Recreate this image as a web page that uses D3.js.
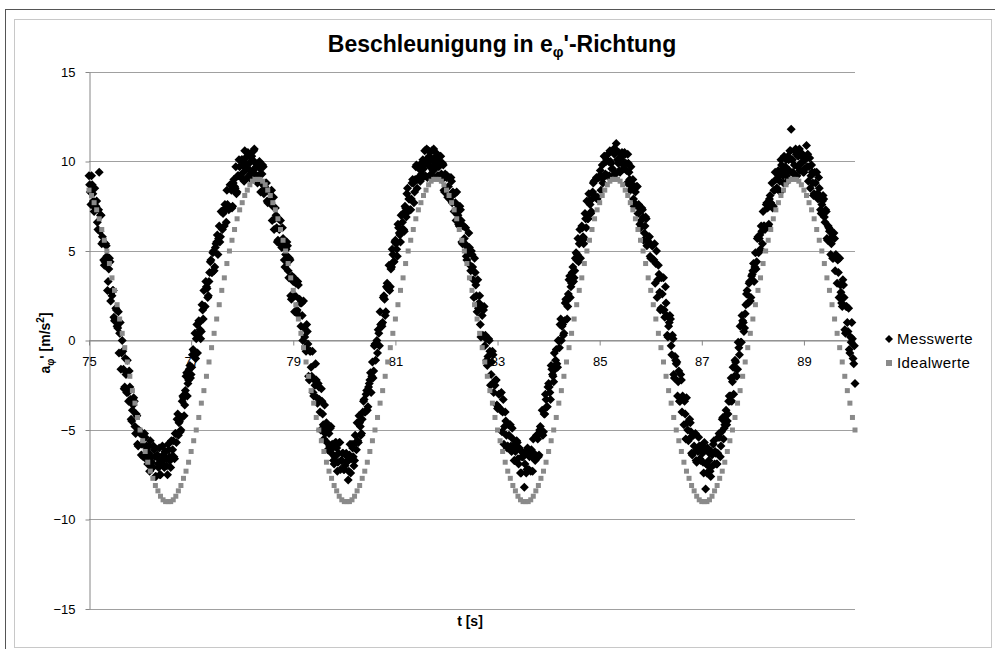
<!DOCTYPE html>
<html>
<head>
<meta charset="utf-8">
<script src="https://cdn.jsdelivr.net/npm/d3@7"></script>
<style>
  body { margin: 0; background: #fff; }
  svg { display: block; font-family: "Liberation Sans", Arial, sans-serif; }
</style>
</head>
<body>
<svg id="root"></svg>
<script>
// sample grids (s)
const tStart = 75;
const messStep = 0.025;
const idealStep = 0.05;

// measured tangential acceleration at 75.000, 75.025, ... (one row = 0.5 s)
const messwerte = [
  9.2, 8.3, 9.2, 8.2, 7.2, 7.4, 7.8, 6.2, 9.4, 7.0, 5.4, 5.5, 4.2, 5.4, 4.7, 3.3, 4.6, 2.2, 2.5, 2.8,
  1.1, 1.8, 0.8, 1.6, 0.4, -1.6, 0.0, -1.6, -2.6, -1.9, -1.1, -3.4, -2.6, -4.4, -3.9, -3.2, -4.8, -4.1, -5.8, -5.0,
  -5.2, -6.4, -5.3, -6.4, -5.4, -5.9, -6.9, -6.3, -5.6, -6.8, -7.1, -6.1, -7.6, -6.5, -6.9, -6.0, -7.5, -6.8, -6.4, -7.1,
  -6.2, -7.0, -5.8, -6.5, -7.1, -6.5, -5.6, -6.6, -5.2, -4.4, -5.3, -4.5, -5.0, -3.4, -3.2, -3.6, -2.0, -3.1, -2.2, -1.4,
  -1.9, -0.8, -0.8, 0.4, 0.1, -0.7, 1.1, 0.6, 0.5, 1.7, 2.8, 1.9, 3.0, 2.4, 3.3, 4.4, 3.8, 4.9, 3.9, 5.2,
  5.5, 4.8, 6.4, 5.8, 7.2, 7.1, 6.4, 7.4, 8.4, 7.5, 7.4, 8.7, 7.4, 8.8, 8.6, 9.7, 8.3, 9.2, 9.7, 9.1,
  10.1, 9.4, 10.6, 9.9, 9.1, 9.6, 10.3, 9.0, 10.1, 10.6, 9.3, 9.7, 8.8, 9.9, 9.6, 8.8, 9.8, 8.2, 8.5, 8.8,
  7.7, 8.3, 7.7, 8.4, 7.5, 6.2, 7.4, 6.3, 5.6, 6.2, 6.7, 5.2, 5.7, 4.5, 4.8, 5.5, 3.9, 4.6, 2.5, 3.6,
  3.3, 1.6, 3.2, 1.7, 3.1, 2.3, 0.8, 1.4, 2.2, 0.2, -0.6, 0.5, -2.0, -0.6, -1.5, -0.6, -3.1, -2.5, -2.2, -3.5,
  -2.6, -4.0, -2.7, -4.1, -5.5, -5.2, -4.6, -6.1, -5.2, -4.9, -6.3, -6.0, -6.9, -5.7, -6.0, -6.8, -5.7, -7.2, -6.7, -6.3,
  -7.2, -6.4, -6.8, -7.8, -6.4, -7.4, -5.8, -6.5, -6.7, -5.7, -4.6, -5.7, -4.6, -5.3, -4.4, -3.4, -4.0, -3.0, -3.9, -2.6,
  -2.2, -2.9, -1.2, -1.7, -0.2, -0.2, -0.7, 0.4, 1.6, 0.9, 1.0, 2.5, 1.4, 3.0, 2.9, 4.2, 3.0, 4.1, 4.8, 4.4,
  5.6, 5.1, 6.5, 6.0, 5.5, 6.2, 7.1, 6.1, 7.4, 8.2, 7.2, 7.9, 7.3, 8.8, 8.8, 8.3, 9.7, 8.5, 9.1, 9.8,
  9.0, 9.9, 9.6, 10.6, 10.1, 9.1, 10.6, 9.7, 9.3, 10.1, 10.7, 9.6, 10.3, 9.2, 9.7, 10.3, 9.3, 9.9, 8.4, 9.3,
  9.1, 8.0, 9.1, 8.0, 8.9, 8.3, 7.2, 7.7, 8.3, 7.0, 6.4, 7.3, 5.5, 6.4, 5.7, 6.3, 4.5, 4.9, 5.2, 3.9,
  4.8, 3.4, 4.6, 3.1, 1.6, 1.8, 2.5, 0.2, 1.4, 1.7, -0.3, 0.1, -1.4, 0.1, -0.6, -1.9, -0.6, -2.9, -2.5, -2.2,
  -3.8, -3.0, -3.8, -2.9, -4.0, -5.8, -4.0, -5.3, -5.9, -5.3, -4.7, -6.2, -5.5, -6.7, -6.2, -5.6, -6.6, -6.0, -7.4, -6.5,
  -6.5, -8.2, -6.3, -7.2, -6.1, -6.5, -7.3, -6.5, -5.5, -6.5, -6.6, -5.3, -6.5, -5.0, -5.1, -3.9, -5.1, -4.1, -3.3, -3.7,
  -2.4, -2.9, -1.4, -1.9, -2.3, -1.6, -0.5, -1.5, 0.0, 0.9, 0.0, 0.9, 0.4, 2.1, 2.2, 1.9, 3.4, 2.4, 3.2, 4.1,
  3.5, 4.6, 4.5, 5.7, 5.4, 4.6, 6.4, 5.8, 5.7, 6.8, 7.8, 6.8, 7.8, 7.1, 7.9, 8.8, 8.1, 9.0, 7.9, 9.1,
  9.2, 8.4, 9.8, 9.1, 10.3, 10.0, 9.2, 10.0, 10.6, 9.9, 9.6, 10.7, 9.3, 11.0, 10.1, 10.5, 9.4, 10.1, 10.4, 9.6,
  10.4, 9.5, 10.4, 9.4, 8.4, 8.6, 9.0, 7.5, 8.3, 8.6, 7.1, 7.4, 6.3, 7.4, 6.9, 6.0, 6.9, 5.3, 5.5, 5.8,
  4.6, 5.3, 4.5, 5.4, 4.3, 2.4, 4.2, 2.7, 1.8, 2.6, 3.5, 1.3, 2.1, 0.3, 0.8, 1.4, -0.3, 0.3, -1.9, -0.9,
  -1.3, -3.1, -1.7, -3.4, -2.2, -3.1, -4.7, -4.1, -3.2, -5.0, -5.5, -4.6, -6.3, -5.3, -5.9, -5.2, -6.8, -6.2, -5.9, -6.7,
  -5.9, -6.8, -5.7, -8.3, -7.4, -7.0, -6.3, -7.6, -6.4, -5.8, -6.9, -6.3, -6.9, -5.4, -5.4, -5.9, -4.4, -5.5, -4.7, -3.9,
  -4.5, -3.4, -3.4, -2.1, -2.3, -3.0, -1.1, -1.6, -1.6, -0.4, 0.8, -0.1, 1.1, 0.5, 1.5, 2.6, 2.1, 3.2, 2.2, 3.6,
  3.9, 3.3, 4.9, 4.4, 5.8, 5.7, 5.1, 6.1, 7.2, 6.4, 6.3, 7.7, 6.4, 7.9, 7.7, 8.8, 7.5, 8.4, 9.0, 8.5,
  9.5, 8.9, 10.1, 9.5, 8.8, 9.3, 10.1, 8.9, 10.1, 10.6, 11.8, 10.1, 9.3, 10.6, 10.4, 9.7, 10.6, 9.5, 9.9, 10.4,
  9.4, 10.1, 10.9, 10.4, 9.7, 8.5, 9.8, 8.8, 8.2, 8.8, 9.4, 7.9, 8.5, 7.3, 7.6, 8.1, 6.9, 7.3, 5.7, 6.4,
  6.1, 4.8, 5.8, 4.6, 5.7, 4.8, 3.2, 3.8, 4.6, 2.7, 1.9, 3.1, 0.6, 1.9, 1.0, 1.8, -0.7, -0.1, 0.1, -1.3,
  -2.4
];

// measured values in between, at 75.0125, 75.0375, ... (one row = 0.5 s)
const messwerteZwischen = [
  8.7, 7.6, 8.7, 7.8, 8.5, 7.5, 6.6, 7.3, 6.1, 7.0, 5.8, 4.5, 4.4, 5.3, 2.8, 4.0, 4.4, 2.7, 2.8, 1.3,
  1.2, 1.7, 0.7, -0.7, 1.0, -0.7, -0.6, -2.7, -1.0, -2.9, -2.9, -1.7, -3.3, -4.5, -3.6, -3.4, -5.2, -4.2, -5.9, -5.1,
  -5.1, -5.8, -6.5, -5.2, -6.6, -6.0, -5.9, -7.3, -6.5, -7.1, -5.9, -6.5, -7.6, -6.4, -7.1, -7.5, -6.7, -5.9, -7.0, -6.2,
  -6.6, -7.5, -6.1, -6.7, -5.6, -6.1, -6.5, -5.2, -5.7, -4.1, -4.6, -5.1, -4.3, -3.1, -4.2, -2.8, -1.8, -2.4, -1.6, -2.1,
  -1.5, -0.5, -0.6, -1.0, 0.9, 0.3, 1.0, 0.1, 2.0, 1.2, 1.9, 3.3, 2.9, 2.5, 3.8, 4.5, 3.8, 5.0, 4.1, 5.4,
  5.9, 5.7, 5.5, 7.2, 6.2, 7.2, 7.6, 6.6, 7.6, 7.3, 8.7, 8.4, 7.5, 9.0, 8.5, 8.2, 9.2, 10.1, 9.2, 10.1,
  9.8, 8.9, 10.2, 9.6, 10.5, 9.9, 9.3, 10.3, 9.5, 10.7, 9.9, 9.0, 9.2, 10.0, 8.3, 9.3, 9.7, 8.6, 8.8, 7.8,
  7.8, 8.3, 7.7, 6.7, 8.0, 6.8, 7.0, 5.5, 6.8, 5.4, 5.5, 6.3, 5.3, 4.1, 5.1, 5.3, 3.5, 4.5, 2.3, 3.4,
  3.5, 2.5, 1.6, 3.3, 1.4, 2.1, 2.1, 0.0, 0.7, -0.4, 0.9, -0.2, -2.2, -0.6, -2.0, -2.9, -2.2, -1.3, -3.2, -2.4,
  -3.3, -5.0, -3.4, -4.7, -3.6, -4.9, -5.7, -4.9, -5.9, -4.8, -5.8, -6.7, -6.5, -5.7, -7.3, -6.3, -5.7, -6.7, -6.3, -7.2,
  -7.0, -6.3, -6.7, -7.3, -5.8, -6.6, -6.0, -7.0, -5.3, -6.1, -5.6, -4.2, -4.8, -5.2, -4.0, -3.3, -4.0, -2.8, -3.7, -2.4,
  -1.8, -2.0, -2.1, -0.3, -1.1, 0.0, 0.6, -0.3, 0.9, 0.8, 2.4, 2.3, 1.6, 3.2, 2.9, 2.8, 4.0, 5.1, 4.4, 5.5,
  5.4, 4.7, 6.3, 5.9, 7.0, 6.6, 6.2, 7.5, 6.9, 8.5, 7.9, 7.3, 7.9, 9.0, 7.7, 9.0, 9.8, 9.0, 9.6, 8.9,
  9.3, 10.1, 9.8, 9.2, 10.7, 9.9, 10.3, 9.1, 10.6, 9.5, 9.8, 10.5, 10.0, 9.2, 10.0, 10.3, 9.0, 9.8, 8.3, 9.2,
  9.2, 8.6, 7.9, 9.1, 7.7, 8.2, 8.2, 6.7, 7.3, 6.5, 7.5, 6.7, 5.4, 6.4, 5.4, 4.7, 5.2, 6.0, 4.2, 5.0,
  4.1, 2.4, 3.8, 2.5, 3.4, 2.1, 0.9, 1.9, 0.3, 1.9, 0.3, -1.1, -0.9, 0.0, -2.5, -1.2, -0.8, -2.3, -2.2, -3.6,
  -3.7, -3.0, -3.9, -5.1, -3.3, -4.8, -4.5, -6.0, -4.7, -6.0, -5.9, -4.9, -5.9, -6.7, -6.0, -5.7, -6.9, -6.1, -7.4, -6.5,
  -6.3, -6.9, -7.4, -6.0, -7.2, -6.4, -6.1, -7.3, -6.3, -6.7, -5.3, -5.5, -6.4, -4.8, -5.2, -5.3, -4.1, -3.0, -3.7, -2.6,
  -2.6, -3.3, -1.6, -2.0, -0.7, -1.1, -1.3, 0.0, -0.4, 1.2, 0.8, 0.3, 1.1, 2.3, 1.2, 2.6, 3.6, 3.0, 3.8, 3.3,
  3.9, 4.9, 4.8, 4.4, 6.2, 5.6, 6.3, 5.4, 7.1, 6.3, 6.8, 8.2, 7.6, 7.2, 8.3, 8.9, 8.0, 9.1, 8.0, 9.1,
  9.5, 9.1, 8.8, 10.3, 9.3, 10.1, 10.4, 9.2, 10.0, 9.6, 10.6, 10.4, 9.3, 10.6, 9.9, 9.5, 10.2, 10.5, 9.8, 10.5,
  9.9, 8.8, 9.9, 9.0, 9.7, 8.7, 7.9, 8.6, 7.6, 8.6, 7.6, 6.5, 6.7, 7.3, 5.6, 6.4, 6.8, 5.6, 5.8, 4.7,
  4.6, 5.3, 4.5, 3.2, 5.0, 3.4, 3.7, 1.7, 3.5, 1.7, 1.7, 3.0, 1.4, 0.2, 1.0, 1.2, -0.8, 0.1, -2.1, -1.1,
  -1.2, -2.3, -3.4, -1.9, -4.0, -3.3, -3.4, -5.5, -4.6, -5.6, -4.4, -5.1, -6.4, -5.3, -6.2, -6.7, -6.1, -5.4, -6.6, -5.9,
  -6.3, -7.4, -6.1, -6.9, -6.0, -6.7, -7.3, -6.2, -7.0, -5.6, -6.2, -6.9, -6.3, -5.2, -6.5, -5.1, -4.3, -4.9, -4.2, -4.7,
  -4.1, -3.1, -3.1, -3.4, -1.5, -2.0, -1.2, -2.0, -0.1, -0.8, -0.1, 1.4, 1.0, 0.7, 2.0, 2.8, 2.1, 3.3, 2.4, 3.7,
  4.3, 4.1, 4.0, 5.7, 4.9, 5.9, 6.4, 5.4, 6.4, 6.2, 7.6, 7.4, 6.5, 8.1, 7.6, 7.4, 8.4, 9.4, 8.5, 9.4,
  9.2, 8.3, 9.8, 9.2, 10.3, 9.7, 9.2, 10.3, 9.5, 10.6, 10.1, 9.4, 9.8, 10.7, 9.2, 10.3, 10.7, 9.9, 10.3, 9.4,
  9.6, 10.2, 9.7, 8.9, 10.2, 9.2, 9.4, 8.1, 9.4, 8.1, 8.2, 9.1, 8.1, 7.1, 7.8, 7.9, 6.6, 7.2, 5.6, 6.3,
  6.2, 5.4, 4.6, 6.0, 3.9, 4.6, 4.5, 2.4, 3.1, 2.1, 3.4, 2.4, 0.4, 1.9, 0.5, -0.5, 0.2, 1.0, -1.0, -0.3
];

// ideal values, one row = 0.5 s
const idealwerte = [
  8.4, 8.1, 7.7, 7.3, 6.8, 6.2, 5.6, 5, 4.3, 3.5,
  2.8, 2, 1.2, 0.4, -0.4, -1.2, -2, -2.8, -3.5, -4.3,
  -5, -5.6, -6.2, -6.8, -7.3, -7.7, -8.1, -8.4, -8.7, -8.9,
  -9, -9, -9, -8.9, -8.7, -8.4, -8.1, -7.7, -7.3, -6.8,
  -6.2, -5.6, -5, -4.3, -3.5, -2.8, -2, -1.2, -0.4, 0.4,
  1.2, 2, 2.8, 3.5, 4.3, 5, 5.6, 6.2, 6.8, 7.3,
  7.7, 8.1, 8.4, 8.7, 8.9, 9, 9, 9, 8.9, 8.7,
  8.4, 8.1, 7.7, 7.3, 6.8, 6.2, 5.6, 5, 4.3, 3.5,
  2.8, 2, 1.2, 0.4, -0.4, -1.2, -2, -2.8, -3.5, -4.3,
  -5, -5.6, -6.2, -6.8, -7.3, -7.7, -8.1, -8.4, -8.7, -8.9,
  -9, -9, -9, -8.9, -8.7, -8.4, -8.1, -7.7, -7.3, -6.8,
  -6.2, -5.6, -5, -4.3, -3.5, -2.8, -2, -1.2, -0.4, 0.4,
  1.2, 2, 2.8, 3.5, 4.3, 5, 5.6, 6.2, 6.8, 7.3,
  7.7, 8.1, 8.4, 8.7, 8.9, 9, 9, 9, 8.9, 8.7,
  8.4, 8.1, 7.7, 7.3, 6.8, 6.2, 5.6, 5, 4.3, 3.5,
  2.8, 2, 1.2, 0.4, -0.4, -1.2, -2, -2.8, -3.5, -4.3,
  -5, -5.6, -6.2, -6.8, -7.3, -7.7, -8.1, -8.4, -8.7, -8.9,
  -9, -9, -9, -8.9, -8.7, -8.4, -8.1, -7.7, -7.3, -6.8,
  -6.2, -5.6, -5, -4.3, -3.5, -2.8, -2, -1.2, -0.4, 0.4,
  1.2, 2, 2.8, 3.5, 4.3, 5, 5.6, 6.2, 6.8, 7.3,
  7.7, 8.1, 8.4, 8.7, 8.9, 9, 9, 9, 8.9, 8.7,
  8.4, 8.1, 7.7, 7.3, 6.8, 6.2, 5.6, 5, 4.3, 3.5,
  2.8, 2, 1.2, 0.4, -0.4, -1.2, -2, -2.8, -3.5, -4.3,
  -5, -5.6, -6.2, -6.8, -7.3, -7.7, -8.1, -8.4, -8.7, -8.9,
  -9, -9, -9, -8.9, -8.7, -8.4, -8.1, -7.7, -7.3, -6.8,
  -6.2, -5.6, -5, -4.3, -3.5, -2.8, -2, -1.2, -0.4, 0.4,
  1.2, 2, 2.8, 3.5, 4.3, 5, 5.6, 6.2, 6.8, 7.3,
  7.7, 8.1, 8.4, 8.7, 8.9, 9, 9, 9, 8.9, 8.7,
  8.4, 8.1, 7.7, 7.3, 6.8, 6.2, 5.6, 5, 4.3, 3.5,
  2.8, 2, 1.2, 0.4, -0.4, -1.2, -2, -2.8, -3.5, -4.3,
  -5
];

const xTicks = [75, 77, 79, 81, 83, 85, 87, 89];
const yTicks = [-15, -10, -5, 0, 5, 10, 15];
const seriesNames = ["Messwerte", "Idealwerte"];

const width = 995;
const height = 649;
const crisp = v => Math.floor(v) + 0.5;

const svg = d3.select('#root')
  .attr('width', width)
  .attr('height', height);

// chart frame
svg.append('rect')
  .attr('x', 5.5).attr('y', 9.5)
  .attr('width', 1000).attr('height', 700)
  .attr('fill', 'none').attr('stroke', '#555');
svg.append('rect')
  .attr('x', 14.5).attr('y', 19.5)
  .attr('width', 977).attr('height', 628)
  .attr('fill', '#fff').attr('stroke', '#c8c8c8');

const x = d3.scaleLinear().domain([75, 90]).range([89, 855]);
const y = d3.scaleLinear().domain([-15, 15]).range([609, 72]);

// pair every measured value with its sample time
const messPunkte = messwerte.map((v, i) => ({ t: tStart + i * messStep, v }))
  .concat(messwerteZwischen.map((v, i) => ({ t: tStart + (i + 0.5) * messStep, v })));
const idealTime = i => tStart + i * idealStep;

// horizontal gridlines
svg.append('g')
  .selectAll('line')
  .data(yTicks)
  .join('line')
  .attr('x1', x(75))
  .attr('x2', x(90))
  .attr('y1', d => crisp(y(d)))
  .attr('y2', d => crisp(y(d)))
  .attr('stroke', '#a0a0a0');

// y axis
const yAxis = svg.append('g')
  .attr('transform', `translate(${crisp(x(75))},0)`)
  .call(d3.axisLeft(y).tickValues(yTicks).tickSize(4).tickSizeOuter(0).tickPadding(10))
yAxis.select('.domain').attr('stroke', '#868686');
yAxis.selectAll('.tick line').attr('stroke', '#868686');
yAxis.selectAll('.tick text')
  .attr('font-size', 13)
  .attr('font-family', '"Liberation Sans", Arial, sans-serif')
  .attr('fill', '#000');

// x axis crosses at 0
const xAxis = svg.append('g')
  .attr('transform', `translate(0,${crisp(y(0))})`)
  .call(d3.axisBottom(x).tickValues(xTicks).tickSize(5).tickSizeOuter(0).tickPadding(11))
xAxis.select('.domain').attr('stroke', '#868686');
xAxis.selectAll('.tick line').attr('stroke', '#868686');
xAxis.selectAll('.tick text')
  .attr('font-size', 13)
  .attr('font-family', '"Liberation Sans", Arial, sans-serif')
  .attr('fill', '#000');

// series markers
const diamond = 'M0,-4.5L4.5,0L0,4.5L-4.5,0Z';

svg.append('g')
  .selectAll('path')
  .data(messPunkte)
  .join('path')
  .attr('d', diamond)
  .attr('transform', d => `translate(${x(d.t)},${y(d.v)})`)
  .attr('fill', '#000');

svg.append('g')
  .selectAll('rect')
  .data(idealwerte)
  .join('rect')
  .attr('x', (d, i) => x(idealTime(i)) - 2.5)
  .attr('y', d => y(d) - 2.5)
  .attr('width', 5)
  .attr('height', 5)
  .attr('fill', '#8a8a8a');

// title
const title = svg.append('text')
  .attr('x', 502)
  .attr('y', 52)
  .attr('text-anchor', 'middle')
  .attr('font-weight', 'bold')
  .attr('font-size', 23);
title.append('tspan').text('Beschleunigung in e');
title.append('tspan').attr('dy', 5).attr('font-size', 15).text('φ');
title.append('tspan').attr('dy', -5).text("'-Richtung");

// axis titles
svg.append('text')
  .attr('x', 470)
  .attr('y', 626)
  .attr('text-anchor', 'middle')
  .attr('font-weight', 'bold')
  .attr('font-size', 14)
  .text('t [s]');

const yTitle = svg.append('text')
  .attr('transform', 'translate(50,343) rotate(-90)')
  .attr('text-anchor', 'middle')
  .attr('font-weight', 'bold')
  .attr('font-size', 14);
yTitle.append('tspan').text('a');
yTitle.append('tspan').attr('dy', 4).attr('font-size', 10).text('φ');
yTitle.append('tspan').attr('dy', -4).text("' [m/s");
yTitle.append('tspan').attr('dy', -6).attr('font-size', 10).text('2');
yTitle.append('tspan').attr('dy', 6).text(']');

// legend
const legend = svg.append('g');
const rows = legend.selectAll('g')
  .data(seriesNames)
  .join('g')
  .attr('transform', (d, i) => `translate(889,${339 + i * 24})`);
rows.filter((d, i) => i === 0).append('path')
  .attr('d', 'M0,-4L4,0L0,4L-4,0Z')
  .attr('fill', '#000');
rows.filter((d, i) => i === 1).append('rect')
  .attr('x', -3).attr('y', -3).attr('width', 6).attr('height', 6)
  .attr('fill', '#8a8a8a');
rows.append('text')
  .attr('x', 8)
  .attr('y', 5)
  .attr('font-size', 15)
  .attr('letter-spacing', 0.4)
  .text(d => d);
</script>
</body>
</html>
